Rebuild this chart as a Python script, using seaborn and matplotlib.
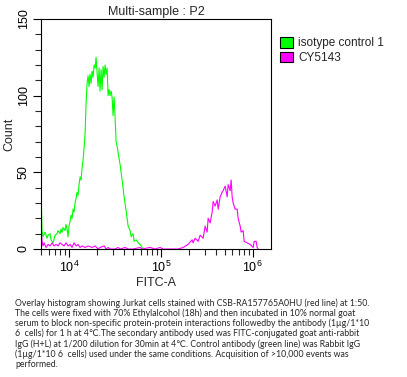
import numpy as np
import pandas as pd
import matplotlib
matplotlib.use("Agg")
import matplotlib.pyplot as plt
from matplotlib.patches import Patch
from matplotlib.ticker import LogLocator, NullFormatter, MultipleLocator
import seaborn as sns

# isotype control 1 (green)
iso_fitc = [4950, 4955, 5080, 5210, 5480, 5760, 5910, 6210, 6370, 6700, 7040, 7400, 7590,
            7980, 8180, 8390, 8600, 9040, 9270, 9510, 9750, 10000, 10250, 10510, 10780,
            11050, 11330, 11620, 11920, 12220, 12530, 12850, 13180, 13510, 13860, 14210,
            14570, 14940, 15320, 15710, 16110, 16520, 16940, 17370, 17810, 18260, 18730,
            19200, 19690, 20190, 20700, 21230, 21770, 22320, 22890, 23470, 24070, 24680,
            25300, 25950, 26610, 27280, 27980, 28690, 29420, 30160, 30930, 31720, 32520,
            33350, 34200, 35960, 37810, 39760, 41810, 43960, 46220, 47400, 49840, 51100,
            53740, 56500, 59400, 62460, 64050]
iso_count = [0, 37, 12, 8, 11, 7, 9, 10, 6, 4, 9, 10, 12,
             10, 13, 11, 14, 12, 16, 13, 8, 15, 18, 22, 20,
             26, 24, 30, 33, 37, 35, 42, 47, 45, 53, 58,
             66, 75, 95, 108, 113, 106, 114, 108, 116, 112, 120,
             118, 125, 115, 106, 118, 103, 117, 104, 119, 112, 120,
             114, 118, 100, 104, 100, 103, 99, 87, 99, 86, 70,
             67, 63, 55, 45, 34, 25, 15, 12, 8, 10, 5,
             6, 4, 3, 1, 0]

# CY5143 (magenta)
cy_fitc = [4950, 4955, 5080, 5210, 5340, 5620, 5910, 6210, 6530, 6870, 7220, 7590,
           7980, 8390, 8820, 9270, 9750, 10250, 10780, 11330, 11920, 12530, 13180,
           13860, 14940, 16110, 17810, 19200, 20700, 21770, 24070, 25300, 26610,
           27980, 31720, 34200, 35960, 40770, 43960, 49840, 59400, 62460, 76200,
           86400, 98000, 105700, 126000, 153900, 174600, 197800, 218600, 224200,
           235700, 254300, 267400, 288400, 303100, 318700, 326800, 343600, 361300,
           370500, 389500, 409600, 420000, 441600, 464300, 476100, 500600, 526300,
           539700, 567400, 581800, 596600, 611800, 643300, 676300, 693500, 729100,
           747700, 786100, 806100, 869100, 937000, 1010000, 1036000, 1089000,
           1117000, 1145000]
cy_count = [0, 14, 5, 2, 4, 1, 3, 2, 4, 2, 3, 2,
            4, 3, 2, 4, 2, 3, 1, 4, 2, 3, 1,
            2, 1, 2, 1, 2, 0, 1, 2, 0, 1,
            0, 0, 1, 0, 1, 0, 0, 1, 0, 1,
            0, 1, 0, 0, 0, 1, 3, 6, 4,
            7, 5, 9, 7, 15, 11, 20, 17, 24,
            31, 28, 32, 26, 34, 37, 38, 41, 34,
            42, 38, 45, 34, 30, 26, 26, 20, 15,
            11, 12, 5, 4, 3, 1, 5, 5,
            1, 0]

series_names = ["isotype control 1", "CY5143"]
series_colors = ["#00ff00", "#ff00ff"]

caption_lines = [
    "Overlay histogram showing Jurkat cells stained with CSB-RA157765A0HU (red line) at 1:50.",
    "The cells were fixed with 70% Ethylalcohol (18h) and then incubated in 10% normal goat",
    "serum to block non-specific protein-protein interactions followedby the antibody (1µg/1*10",
    "6  cells) for 1 h at 4℃.The secondary antibody used was FITC-conjugated goat anti-rabbit",
    "IgG (H+L) at 1/200 dilution for 30min at 4℃. Control antibody (green line) was Rabbit IgG",
    "(1µg/1*10 6  cells) used under the same conditions. Acquisition of >10,000 events was",
    "performed.",
]

df = pd.concat([
    pd.DataFrame({"FITC": iso_fitc, "Count": iso_count, "Sample": series_names[0]}),
    pd.DataFrame({"FITC": cy_fitc, "Count": cy_count, "Sample": series_names[1]}),
])

sns.set_style("ticks")
plt.rcParams["font.family"] = ["Liberation Sans", "DejaVu Sans"]

fig = plt.figure(figsize=(4.07, 3.77), dpi=100)
ax = fig.add_axes([41 / 407, 1 - 249 / 377, 230 / 407, 230 / 377])

sns.lineplot(data=df, x="FITC", y="Count", hue="Sample", hue_order=series_names,
             palette=series_colors, estimator=None, sort=False, legend=False,
             linewidth=0.8, ax=ax)

ax.set_xscale("log")
ax.set_xlim(4950, 1.58e6)
ax.set_ylim(0, 150)
ax.set_yticks([0, 50, 100, 150])
ax.yaxis.set_minor_locator(MultipleLocator(10))
ax.xaxis.set_major_locator(LogLocator(base=10, numticks=10))
ax.xaxis.set_minor_locator(LogLocator(base=10, subs=np.arange(2, 10), numticks=20))
ax.xaxis.set_minor_formatter(NullFormatter())
for s in ax.spines.values():
    s.set_linewidth(0.8)
    s.set_color("black")
ax.tick_params(axis="both", which="major", length=6, width=0.8, labelsize=9, pad=2, colors="black")
ax.tick_params(axis="both", which="minor", length=4, width=0.8)
for lab in ax.get_yticklabels():
    lab.set_rotation(90)
    lab.set_va("center")
ax.set_xlabel("FITC-A", fontsize=9, labelpad=1)
ax.set_ylabel("Count", fontsize=9)
ax.yaxis.set_label_coords(-0.112, 0.5)
ax.set_title("Multi-sample : P2", fontsize=9, pad=3)

handles = [Patch(facecolor=c, edgecolor="black", linewidth=0.8) for c in series_colors]
fig.legend(handles, series_names, loc="upper left", bbox_to_anchor=(280 / 407, 1 - 37 / 377),
           frameon=False, fontsize=8.5, handlelength=1.1, handleheight=1.0, handletextpad=0.45,
           labelspacing=0.2, borderpad=0, borderaxespad=0)

fig.text(15 / 407, 1 - 298 / 377, "\n".join(caption_lines), fontsize=6.3,
         family=["Lato", "DejaVu Sans"], va="top", ha="left", linespacing=1.1)

fig.savefig("out.png", dpi=100, facecolor="white")
